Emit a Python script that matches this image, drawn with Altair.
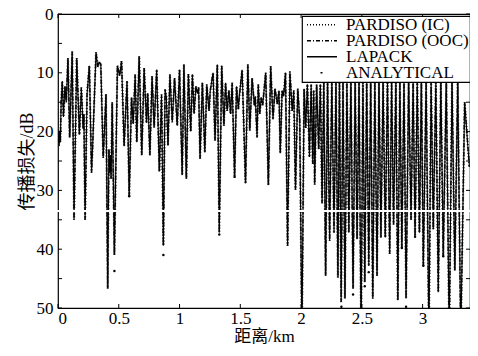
import altair as alt
import pandas as pd

# ---- data (range in km, transmission loss in dB) ----
RANGE_KM = [
    0.000, 0.007, 0.012, 0.019, 0.026, 0.035, 0.045, 0.057, 0.068, 0.082,
    0.096, 0.117, 0.132, 0.154, 0.176, 0.192, 0.207, 0.213, 0.223, 0.239,
    0.258, 0.276, 0.286, 0.298, 0.313, 0.327, 0.337, 0.352, 0.372, 0.395,
    0.409, 0.419, 0.425, 0.432, 0.437, 0.446, 0.464, 0.489, 0.507, 0.523,
    0.544, 0.568, 0.586, 0.605, 0.619, 0.635, 0.648, 0.668, 0.689, 0.709,
    0.728, 0.738, 0.756, 0.774, 0.791, 0.812, 0.834, 0.852, 0.867, 0.881,
    0.891, 0.905, 0.921, 0.940, 0.959, 0.981, 1.000, 1.022, 1.036, 1.056,
    1.073, 1.092, 1.106, 1.120, 1.134, 1.149, 1.157, 1.169, 1.188, 1.208,
    1.224, 1.243, 1.253, 1.276, 1.292, 1.311, 1.327, 1.347, 1.365, 1.379,
    1.392, 1.406, 1.420, 1.433, 1.453, 1.469, 1.484, 1.492, 1.515, 1.543,
    1.562, 1.578, 1.597, 1.616, 1.623, 1.638, 1.648, 1.660, 1.672, 1.684,
    1.709, 1.731, 1.750, 1.769, 1.785, 1.805, 1.818, 1.829, 1.844, 1.856,
    1.872, 1.889, 1.908, 1.927, 1.940, 1.954, 1.973, 1.989, 2.007, 2.025,
    2.038, 2.052, 2.069, 2.083, 2.096, 2.104, 2.112, 2.128, 2.145, 2.159,
    2.173, 2.187, 2.202, 2.218, 2.235, 2.253, 2.271, 2.287, 2.303, 2.316,
    2.330, 2.345, 2.361, 2.377, 2.393, 2.410, 2.428, 2.445, 2.461, 2.477,
    2.494, 2.509, 2.524, 2.540, 2.557, 2.573, 2.590, 2.607, 2.625, 2.641,
    2.657, 2.675, 2.693, 2.711, 2.729, 2.745, 2.761, 2.780, 2.796, 2.813,
    2.829, 2.847, 2.864, 2.885, 2.905, 2.922, 2.938, 2.956, 2.974, 2.990,
    3.006, 3.029, 3.052, 3.070, 3.088, 3.109, 3.129, 3.150, 3.170, 3.195,
    3.219, 3.242, 3.265, 3.289, 3.314, 3.346, 3.385,
]
LOSS_DB = [
    19.5, 22.5, 20.0, 21.8, 15.0, 11.4, 17.5, 12.3, 15.0, 7.5,
    21.0, 6.4, 35.0, 7.5, 20.5, 12.5, 19.5, 17.0, 35.0, 13.6,
    8.8, 27.0, 22.0, 15.0, 6.5, 9.0, 8.2, 8.5, 24.5, 13.6,
    46.7, 23.0, 27.0, 24.0, 28.0, 15.0, 41.0, 8.8, 10.5, 8.0,
    22.5, 11.4, 31.0, 14.2, 18.7, 10.3, 21.8, 7.2, 24.0, 9.2,
    18.5, 13.5, 24.0, 10.6, 19.3, 9.5, 26.8, 13.7, 39.4, 12.8,
    14.0, 22.4, 10.3, 18.4, 10.9, 19.0, 9.5, 27.4, 8.6, 28.0,
    10.2, 20.0, 10.3, 17.0, 12.3, 13.5, 12.5, 24.6, 11.7, 23.5,
    12.0, 16.5, 13.0, 10.0, 21.5, 8.6, 37.2, 8.8, 19.0, 11.7,
    16.5, 13.0, 17.0, 11.7, 27.7, 12.3, 16.2, 14.0, 9.5, 28.8,
    8.6, 19.8, 10.9, 15.6, 14.0, 21.0, 12.0, 17.0, 14.2, 15.5,
    10.0, 29.1, 8.9, 17.9, 12.7, 15.3, 13.0, 23.7, 13.0, 14.0,
    10.0, 39.4, 9.8, 16.5, 13.0, 29.9, 12.7, 18.0, 55.0, 12.7,
    19.4, 12.0, 24.3, 12.0, 25.5, 13.0, 29.0, 12.0, 23.0, 12.0,
    32.2, 11.5, 44.5, 11.5, 38.6, 11.5, 37.2, 11.5, 44.8, 11.5,
    49.0, 11.5, 48.4, 11.5, 37.2, 11.5, 46.7, 11.5, 38.3, 11.5,
    55.0, 11.5, 45.6, 11.5, 42.8, 11.5, 48.4, 11.5, 44.5, 11.5,
    38.0, 11.5, 38.0, 11.5, 40.8, 11.5, 35.8, 11.5, 48.7, 11.5,
    39.7, 11.5, 48.4, 11.5, 35.0, 11.5, 37.8, 11.5, 37.2, 11.5,
    42.8, 11.5, 55.0, 11.5, 36.6, 11.5, 47.3, 11.5, 41.1, 11.5,
    55.0, 11.5, 43.6, 11.5, 55.0, 15.0, 26.0,
]
DOT_KM = [0.464, 0.586, 0.867, 1.327, 1.453, 2.332, 2.428, 2.524, 2.557,
          2.829, 2.864, 2.938, 3.006, 3.170]
DOT_DB = [43.7, 31.0, 41.0, 37.5, 27.7, 49.8, 47.7, 46.3, 43.9,
          39.8, 49.8, 37.9, 42.8, 41.2]

X_TICKS = [0, 0.5, 1, 1.5, 2, 2.5, 3]
Y_TICKS = [0, 5, 10, 15, 20, 25, 30, 35, 40, 45, 50]
SERIES = ["PARDISO (IC)", "PARDISO (OOC)", "LAPACK", "ANALYTICAL"]
DASHES = [[1, 2], [4, 2, 1, 2], [1, 0], [0, 13.5, 2, 100]]
X_MAX = 3.39
GAP_DB = 33.5  # white scan streak across the figure

W, H = 412, 294
PAD_L, PAD_T, PAD_R, PAD_B = 50, 6, 0, 36
SERIF = "Liberation Serif"
MIXED = "Liberation Serif, Noto Sans CJK SC"

line_df = pd.DataFrame({"r": RANGE_KM, "tl": LOSS_DB})
dot_df = pd.DataFrame({"r": DOT_KM, "tl": DOT_DB})
xt_df = pd.DataFrame({"r": X_TICKS})
yt_df = pd.DataFrame({"tl": Y_TICKS})

xs = alt.Scale(domain=[0, X_MAX], nice=False, zero=False)
ys = alt.Scale(domain=[0, 50], reverse=True, nice=False)
dash_scale = alt.Scale(domain=SERIES, range=DASHES)

x_axis = alt.Axis(values=X_TICKS, format="~g", ticks=False, domain=False, grid=False,
                  labelFont=SERIF, labelFontSize=17, labelColor="black", labelPadding=2,
                  title="距离/km", titleFont=MIXED, titleFontSize=17, titleFontWeight="normal",
                  titleColor="black", titleY=33, titleBaseline="alphabetic")
y_axis = alt.Axis(values=Y_TICKS, ticks=False, domain=False, grid=False,
                  labelFont=SERIF, labelFontSize=17, labelColor="black", labelPadding=5,
                  title="传播损失/dB", titleFont=MIXED, titleFontSize=18, titleFontWeight="normal",
                  titleColor="black", titleAngle=270, titleX=-31, titleY=H / 2,
                  titleAlign="center", titleBaseline="middle")

X = alt.X("r:Q", scale=xs, axis=x_axis)
Y = alt.Y("tl:Q", scale=ys, axis=y_axis)

legend = alt.Legend(title=None, orient="none", legendX=244, legendY=2,
                    symbolType="stroke", symbolSize=900, symbolStrokeWidth=1.3,
                    symbolStrokeColor="black", symbolOffset=3, labelFont=SERIF,
                    labelFontSize=17, labelColor="black", labelOffset=8,
                    clipHeight=15.5, rowPadding=-4.5, padding=1,
                    fillColor="white", strokeColor="black")


def series_layer(i, color, width):
    df = line_df.assign(s=SERIES[i])
    return alt.Chart(df).mark_line(color=color, strokeWidth=width, clip=True).encode(
        x=X, y=Y, strokeDash=alt.StrokeDash("s:N", scale=dash_scale, legend=legend))


ic = series_layer(0, "#555555", 2.2)
ooc = series_layer(1, "#333333", 1.6)
lap = series_layer(2, "black", 1.1)
dots = alt.Chart(dot_df).mark_circle(color="black", size=6, opacity=1, clip=True).encode(x=X, y=Y)

tick_b = alt.Chart(xt_df).mark_rule(color="black", strokeWidth=1).encode(
    x=X, y=alt.value(H), y2=alt.value(H - 4))
tick_t = alt.Chart(xt_df).mark_rule(color="black", strokeWidth=1).encode(
    x=X, y=alt.value(0), y2=alt.value(4))
tick_l = alt.Chart(yt_df).mark_rule(color="black", strokeWidth=1).encode(
    y=Y, x=alt.value(0), x2=alt.value(4))
tick_r = alt.Chart(yt_df).mark_rule(color="black", strokeWidth=1).encode(
    y=Y, x=alt.value(W - 4), x2=alt.value(W))

streak = alt.Chart(line_df).mark_rule(color="white", strokeWidth=1).encode(
    y=alt.datum(GAP_DB), x=alt.value(-PAD_L), x2=alt.value(W + PAD_R))

chart = alt.layer(ic, ooc, lap, dots, tick_b, tick_t, tick_l, tick_r, streak).properties(
    width=W, height=H,
    autosize=alt.AutoSizeParams(type="none"),
    padding={"left": PAD_L, "top": PAD_T, "right": PAD_R, "bottom": PAD_B},
    background="white",
).configure_view(stroke="black", strokeWidth=1.2).configure_legend(strokeWidth=1.2)

chart.save("out.html", embed_options={"renderer": "svg", "actions": False})
